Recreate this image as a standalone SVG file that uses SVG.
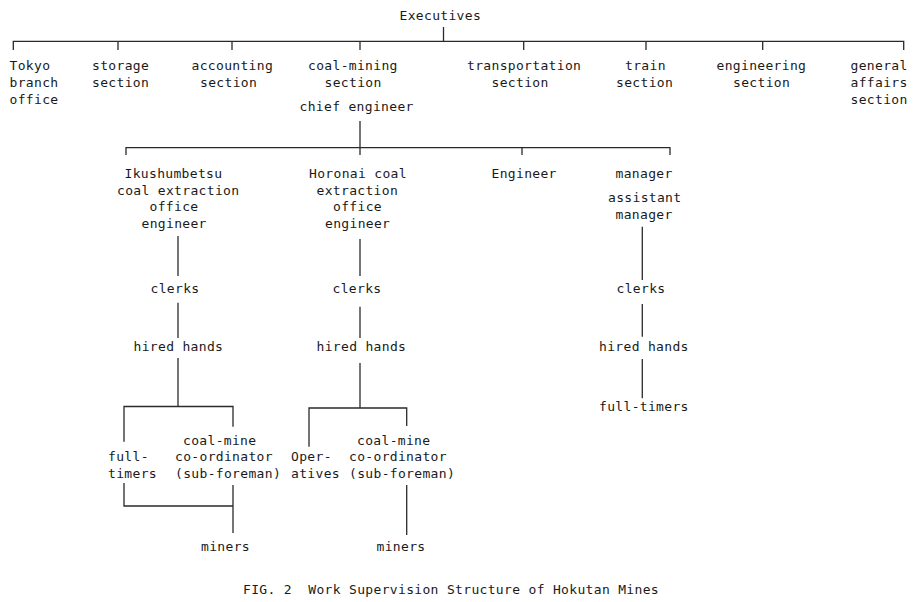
<svg xmlns="http://www.w3.org/2000/svg" width="916" height="602" viewBox="0 0 916 602">
<style>
text{font-family:"DejaVu Sans Mono","Liberation Mono",monospace;font-size:13px;letter-spacing:0.33px;fill:#1a1a1a}
.pre{white-space:pre}
.c line,.c path{stroke:#2a2a2a;stroke-width:1.3;fill:none}
</style>
<rect width="916" height="602" fill="#ffffff"/>
<g class="c" id="connectors">
<line x1="443.5" y1="27" x2="443.5" y2="41.3"/>
<path d="M13.3 50 V41.3 H903.7 V50"/>
<line x1="118" y1="41.3" x2="118" y2="50"/>
<line x1="232" y1="41.3" x2="232" y2="50"/>
<line x1="360" y1="41.3" x2="360" y2="50"/>
<line x1="523.7" y1="41.3" x2="523.7" y2="50"/>
<line x1="646" y1="41.3" x2="646" y2="50"/>
<line x1="762.7" y1="41.3" x2="762.7" y2="50"/>
<line x1="360" y1="121" x2="360" y2="155"/>
<path d="M126 155 V147.7 H670 V155"/>
<line x1="522" y1="147.7" x2="522" y2="155"/>
<line x1="178" y1="236" x2="178" y2="276"/>
<line x1="178" y1="302.7" x2="178" y2="338"/>
<line x1="178" y1="358" x2="178" y2="406.5"/>
<path d="M124 441.7 V406.5 H233 V426.7"/>
<path d="M124 483 V506 H233"/>
<line x1="233" y1="485" x2="233" y2="533"/>
<line x1="360" y1="239" x2="360" y2="276"/>
<line x1="360" y1="306.7" x2="360" y2="338"/>
<line x1="360" y1="363" x2="360" y2="408"/>
<path d="M309 446.7 V408 H406.7 V426"/>
<line x1="406.7" y1="485" x2="406.7" y2="535"/>
<line x1="642.3" y1="226.7" x2="642.3" y2="280"/>
<line x1="642.3" y1="304" x2="642.3" y2="336.7"/>
<line x1="642.3" y1="359" x2="642.3" y2="398.3"/>
</g>
<g id="executives"><text x="399.5" y="19.5">Executives</text></g>
<g id="tokyo"><text x="9.5" y="70">Tokyo</text><text x="9.5" y="87">branch</text><text x="9.5" y="104">office</text></g>
<g id="storage"><text x="92" y="70">storage</text><text x="92" y="87">section</text></g>
<g id="accounting"><text x="191.5" y="70">accounting</text><text x="200" y="87">section</text></g>
<g id="coal-mining"><text x="308" y="70">coal-mining</text><text x="324.5" y="87">section</text><text x="299.5" y="111">chief engineer</text></g>
<g id="transportation"><text x="467" y="70">transportation</text><text x="491.5" y="87">section</text></g>
<g id="train"><text x="625" y="70">train</text><text x="616" y="87">section</text></g>
<g id="engineering"><text x="716.5" y="70">engineering</text><text x="733" y="87">section</text></g>
<g id="general-affairs"><text x="850.5" y="70">general</text><text x="850.5" y="87">affairs</text><text x="850.5" y="104">section</text></g>
<g id="ikushumbetsu"><text x="124.5" y="178">Ikushumbetsu</text><text x="117" y="194.5">coal extraction</text><text x="149.5" y="211">office</text><text x="141.5" y="227.5">engineer</text></g>
<g id="ikushumbetsu-clerks"><text x="150.5" y="292.5">clerks</text></g>
<g id="ikushumbetsu-hired"><text x="133.5" y="351">hired hands</text></g>
<g id="ikushumbetsu-fulltimers"><text x="108" y="461">full-</text><text x="108" y="477.5">timers</text></g>
<g id="ikushumbetsu-coordinator"><text x="183" y="444.5">coal-mine</text><text x="175" y="461">co-ordinator</text><text x="175" y="477.5">(sub-foreman)</text></g>
<g id="ikushumbetsu-miners"><text x="201" y="551">miners</text></g>
<g id="horonai"><text x="309" y="178">Horonai coal</text><text x="316.5" y="194.5">extraction</text><text x="333" y="211">office</text><text x="325" y="227.5">engineer</text></g>
<g id="horonai-clerks"><text x="332.5" y="292.5">clerks</text></g>
<g id="horonai-hired"><text x="316.5" y="351">hired hands</text></g>
<g id="horonai-operatives"><text x="291" y="461">Oper-</text><text x="291" y="477.5">atives</text></g>
<g id="horonai-coordinator"><text x="357" y="444.5">coal-mine</text><text x="349" y="461">co-ordinator</text><text x="349" y="477.5">(sub-foreman)</text></g>
<g id="horonai-miners"><text x="376.5" y="551">miners</text></g>
<g id="engineer"><text x="491.5" y="178">Engineer</text></g>
<g id="manager"><text x="615.5" y="178">manager</text><text x="608" y="202">assistant</text><text x="615.5" y="218.5">manager</text></g>
<g id="manager-clerks"><text x="616.5" y="292.5">clerks</text></g>
<g id="manager-hired"><text x="599" y="351">hired hands</text></g>
<g id="manager-fulltimers"><text x="599" y="410.5">full-timers</text></g>
<g id="caption"><text class="pre" x="243" y="594">FIG. 2  Work Supervision Structure of Hokutan Mines</text></g>
</svg>
